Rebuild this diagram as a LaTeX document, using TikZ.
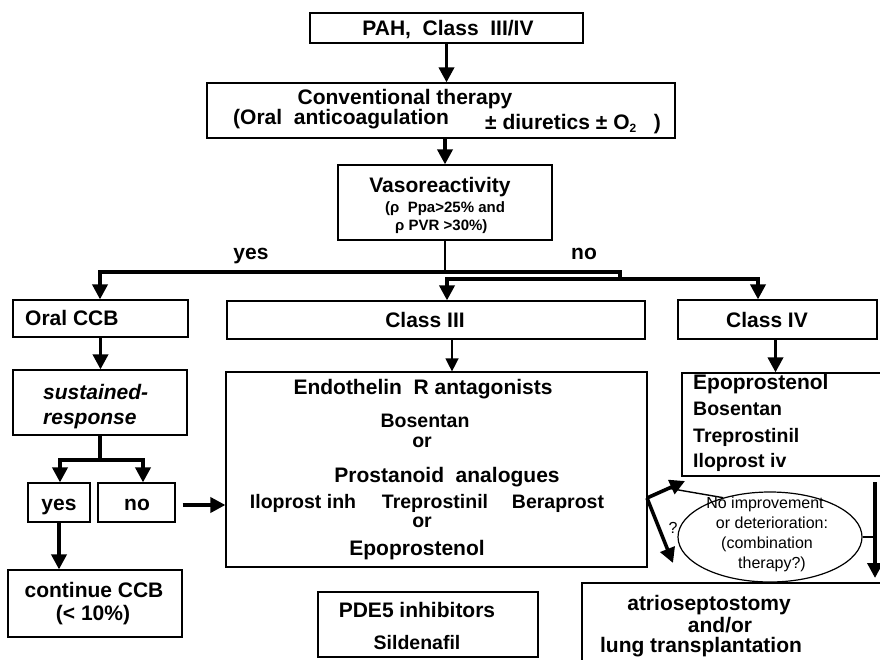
\documentclass[tikz,border=0pt]{standalone}
\usepackage{fontspec}
\setmainfont{Liberation Sans}
\usetikzlibrary{arrows.meta,shapes.geometric}
\tikzset{
  bx/.style={draw=black, line width=1.2pt, rectangle, inner sep=0pt},
  tb/.style={inner sep=0pt, text height=15pt, text depth=0pt, font=\bfseries\fontsize{21}{24}\selectfont},
  ts/.style={inner sep=0pt, text height=14pt, text depth=0pt, font=\bfseries\fontsize{19.5}{22}\selectfont},
  tv/.style={inner sep=0pt, text height=10.8pt, text depth=0pt, font=\bfseries\fontsize{15}{16}\selectfont},
  tr/.style={inner sep=0pt, text height=11.5pt, text depth=0pt, font=\fontsize{16}{19}\selectfont},
  ti/.style={inner sep=0pt, text height=15pt, text depth=0pt, font=\bfseries\itshape\fontsize{21}{24}\selectfont},
  thk/.style={line width=3.6pt, line join=miter, line cap=butt},
  thkarr/.style={thk, -{Triangle[width=15pt,length=15pt]}},
  thn/.style={line width=1.4pt},
  thnarr/.style={thn, -{Triangle[width=13pt,length=13pt]}},
}
\begin{document}
\begin{tikzpicture}[x=1pt,y=-1pt]
\useasboundingbox (0,0) rectangle (880,660);
\clip (0,0) rectangle (880,660);
% boxes
\node[bx, minimum width=273pt, minimum height=30pt] (pah) at (446.5,28) {};
\node[bx, minimum width=468pt, minimum height=55pt] (conv) at (441,110.5) {};
\node[bx, minimum width=214pt, minimum height=75pt] (vaso) at (445,202.5) {};
\node[bx, minimum width=175pt, minimum height=37pt] (oral) at (100.5,318.5) {};
\node[bx, minimum width=418pt, minimum height=38pt] (c3) at (436,320) {};
\node[bx, minimum width=199pt, minimum height=39pt] (c4) at (777.5,319.5) {};
\node[bx, minimum width=174pt, minimum height=65pt] (sust) at (100,402.5) {};
\node[bx, minimum width=62pt, minimum height=39pt] (yesb) at (59,502.5) {};
\node[bx, minimum width=77pt, minimum height=39pt] (nob) at (136.5,502.5) {};
\node[bx, minimum width=174pt, minimum height=67pt] (cont) at (95,603.5) {};
\node[bx, minimum width=421pt, minimum height=195pt] (endo) at (436.5,469.5) {};
\node[bx, minimum width=220pt, minimum height=65pt] (pde) at (428,624.5) {};
\node[bx, minimum width=208pt, minimum height=103pt] (c4d) at (786,424.5) {};
\node[bx, minimum width=308pt, minimum height=87pt] (atrio) at (736,626.5) {};
\node[draw=black, line width=1.2pt, ellipse, inner sep=0pt, minimum width=184pt, minimum height=90pt] (ell) at (770,537) {};
% texts
\node[tb] (tpah) at (448,28) {PAH,\ \ Class\ \ III/IV};
\node[tb] (tconv1) at (405,97) {Conventional therapy};
\node[tb, anchor=west] (tconv2) at (233,117) {(Oral\ \ anticoagulation};
\node[tb, anchor=west] (tconv3) at (485,122) {± diuretics ± O\raisebox{-0.3ex}{\fontsize{12}{12}\selectfont 2}\ \ \ )};
\node[tb] (tvaso1) at (440,185) {Vasoreactivity};
\node[tv, anchor=west] (tvaso2) at (385,207) {(ρ\ \ Ppa>25\% and};
\node[tv, anchor=west] (tvaso3) at (395,225) {ρ PVR >30\%)};
\node[tb] (lyes) at (251,252) {yes};
\node[tb] (lno) at (584,252) {no};
\node[tb, anchor=west] (toral) at (25,318) {Oral CCB};
\node[tb] (tc3) at (425,320) {Class III};
\node[tb] (tc4) at (767,320) {Class IV};
\node[ti, anchor=west] (tsust1) at (43,392) {sustained-};
\node[ti, anchor=west] (tsust2) at (43,417) {response};
\node[tb] (tyes) at (59,503) {yes};
\node[tb] (tno) at (137,503) {no};
\node[tb] (tcont1) at (94,590) {continue CCB};
\node[tb] (tcont2) at (93,613) {(< 10\%)};
\node[tb] (te1) at (423,387) {Endothelin\ \ R antagonists};
\node[ts] (te2) at (425,420) {Bosentan};
\node[ts] (te3) at (422,440) {or};
\node[tb] (te4) at (447,475) {Prostanoid\ \ analogues};
\node[ts] (te5) at (303,501) {Iloprost inh};
\node[ts] (te6) at (435,501) {Treprostinil};
\node[ts] (te7) at (558,501) {Beraprost};
\node[ts] (te8) at (422,520) {or};
\node[tb] (te9) at (417,548) {Epoprostenol};
\node[tb] (tp1) at (417,610) {PDE5 inhibitors};
\node[ts] (tp2) at (417,642) {Sildenafil};
\node[tb, anchor=west] (td1) at (693,382) {Epoprostenol};
\node[ts, anchor=west] (td2) at (693,408) {Bosentan};
\node[ts, anchor=west] (td3) at (693,435) {Treprostinil};
\node[ts, anchor=west] (td4) at (693,460) {Iloprost iv};
\node[tr] (tl1) at (765,503) {No improvement};
\node[tr] (tl2) at (772,523) {or deterioration:};
\node[tr] (tl3) at (767,543) {(combination};
\node[tr] (tl4) at (772,563) {therapy?)};
\node[tb] (ta1) at (709,603) {atrioseptostomy};
\node[tb] (ta2) at (720,625) {and/or};
\node[tb] (ta3) at (701,645) {lung transplantation};
\node[tr] (tq) at (673,528) {?};
% connectors
\draw[thkarr] (pah.south) -- (pah.south |- conv.north);
\draw[thkarr] ([xshift=4pt]conv.south) -- ([xshift=4pt]conv.south |- vaso.north);
\coordinate (j1) at (445,272);
\coordinate (jL) at (100,272);
\coordinate (jR) at (620,272);
\coordinate (jR2) at (620,279);
\coordinate (j3) at (447,279);
\coordinate (j4) at (758,279);
\draw[thn] (vaso.south) -- (j1);
\draw[thkarr] (jR2) -- (jR) -- (jL) -- (jL |- oral.north);
\draw[thk, {Triangle[width=15pt,length=15pt]}-{Triangle[width=15pt,length=15pt]}] (j3 |- c3.north) -- (j3) -- (j4) -- (j4 |- c4.north);
\draw[thnarr] ([xshift=16pt]c3.south) -- ([xshift=16pt]c3.south |- endo.north);
\draw[thkarr] ([xshift=-2pt]c4.south) -- ([xshift=-2pt]c4.south |- c4d.north);
\draw[thkarr] (oral.south) -- (oral.south |- sust.north);
\coordinate (s1) at (100,460);
\coordinate (sy) at (60,460);
\coordinate (sn) at (143,460);
\draw[thk] (sust.south) -- (s1);
\draw[thk, {Triangle[width=15pt,length=15pt]}-{Triangle[width=15pt,length=15pt]}] (sy |- yesb.north) -- (sy) -- (sn) -- (sn |- nob.north);
\draw[thkarr] ([xshift=7pt,yshift=-2.5pt]nob.east) -- (endo.west |- 0,505);
\draw[thkarr] (yesb.south) -- (yesb.south |- cont.north);
\coordinate (e1) at (647,498);
\coordinate (e2) at (685,481);
\coordinate (e3) at (673,563);
\coordinate (t1) at (667,488);
\draw[thkarr] (e1) -- (e2);
\draw[thkarr] (e1) -- (e3);
\draw[thn] (ell.140) -- (t1);
\coordinate (r1) at (875,482);
\coordinate (r2) at (875,578);
\draw[thkarr] (r1) -- (r2);
\draw[thn] (ell.east) -- (ell.east -| r1);
\end{tikzpicture}
\end{document}
